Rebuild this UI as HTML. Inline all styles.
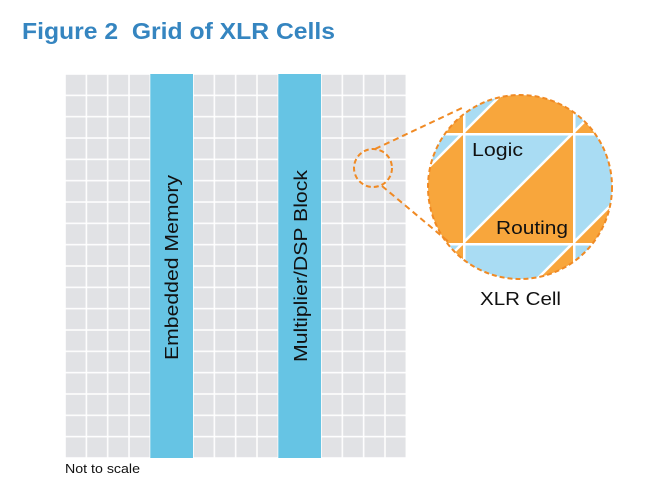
<!DOCTYPE html>
<html><head><style>
body{margin:0;background:#fff;}
svg{display:block;font-family:"Liberation Sans",sans-serif;}
</style></head><body>
<svg width="666" height="504" viewBox="0 0 666 504" xmlns="http://www.w3.org/2000/svg">
<defs>
<pattern id="pt" patternUnits="userSpaceOnUse" x="463" y="133" width="110" height="110">
<rect width="110" height="110" fill="#f8a63c"/>
<polygon points="0,0 110,0 0,110" fill="#a9dcf3"/>
<line x1="0" y1="110" x2="110" y2="0" stroke="#fff" stroke-width="2.5"/>
<line x1="0" y1="0" x2="110" y2="0" stroke="#fff" stroke-width="5"/>
<line x1="0" y1="0" x2="0" y2="110" stroke="#fff" stroke-width="5"/>
</pattern>
<pattern id="gp" patternUnits="userSpaceOnUse" x="65" y="74" width="21.33" height="21.33">
<rect width="21.33" height="21.33" fill="#fff"/>
<rect x="0.8" y="0.8" width="19.8" height="19.8" fill="#e1e2e5"/>
</pattern>
<clipPath id="cc"><circle cx="520" cy="187" r="92"/></clipPath>
</defs>
<text x="22" y="39" font-size="23" font-weight="bold" fill="#3585c0" textLength="313" lengthAdjust="spacingAndGlyphs" xml:space="preserve">Figure 2  Grid of XLR Cells</text>
<rect x="65" y="74" width="341.3" height="384" fill="url(#gp)"/>
<rect x="150.3" y="74" width="42.7" height="384" fill="#66c4e4"/>
<rect x="278.3" y="74" width="42.7" height="384" fill="#66c4e4"/>
<text transform="translate(178,360) rotate(-90)" font-size="18" fill="#111" textLength="185" lengthAdjust="spacingAndGlyphs">Embedded Memory</text>
<text transform="translate(307,362) rotate(-90)" font-size="18" fill="#111" textLength="192" lengthAdjust="spacingAndGlyphs">Multiplier/DSP Block</text>
<text x="65" y="473" font-size="13" fill="#111" textLength="75" lengthAdjust="spacingAndGlyphs">Not to scale</text>
<rect x="420" y="90" width="200" height="200" fill="url(#pt)" clip-path="url(#cc)"/>
<circle cx="520" cy="187" r="92" fill="none" stroke="#f08a24" stroke-width="2" stroke-dasharray="5,3"/>
<circle cx="373" cy="168" r="19" fill="none" stroke="#f08a24" stroke-width="2" stroke-dasharray="5,3"/>
<line x1="375" y1="149" x2="462" y2="108" stroke="#f08a24" stroke-width="2" stroke-dasharray="6,4"/>
<line x1="382" y1="186" x2="450" y2="243" stroke="#f08a24" stroke-width="2" stroke-dasharray="6,4"/>
<text x="472" y="156" font-size="18" fill="#111" textLength="51" lengthAdjust="spacingAndGlyphs">Logic</text>
<text x="496" y="234" font-size="18" fill="#111" textLength="72" lengthAdjust="spacingAndGlyphs">Routing</text>
<text x="480" y="305" font-size="18" fill="#111" textLength="81" lengthAdjust="spacingAndGlyphs">XLR Cell</text>
</svg>
</body></html>
